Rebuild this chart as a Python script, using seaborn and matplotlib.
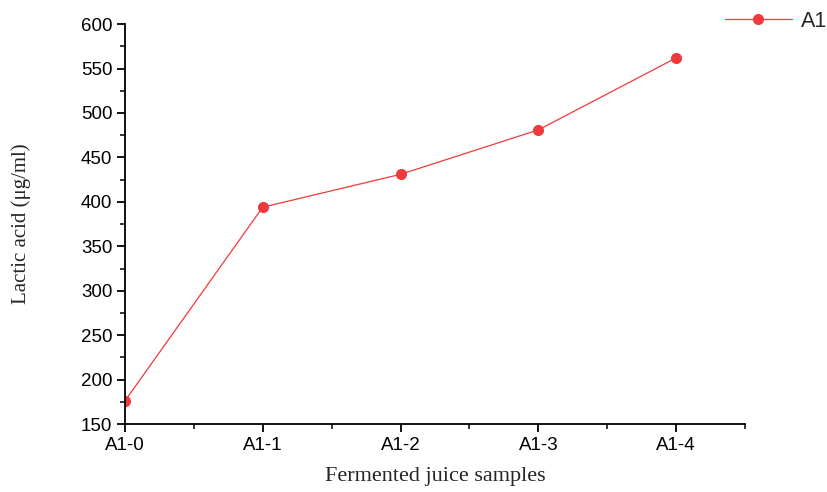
import numpy as np
import pandas as pd
import matplotlib
matplotlib.use("Agg")
import matplotlib.pyplot as plt
import seaborn as sns
from matplotlib.ticker import MultipleLocator

samples = ["A1-0", "A1-1", "A1-2", "A1-3", "A1-4"]
lactic_acid = [176, 394, 431, 481, 562]
series_name = "A1"

sns.set_theme(style="ticks")
plt.rcParams["font.family"] = ["Liberation Sans", "DejaVu Sans"]

df = pd.DataFrame({
    "pos": np.arange(len(samples)),
    "sample": samples,
    "value": lactic_acid,
    "series": series_name,
})

fig = plt.figure(figsize=(8.27, 4.92), dpi=100)
ax = fig.add_axes([0.151, 0.138, 0.750, 0.813])

sns.lineplot(data=df, x="pos", y="value", hue="series", palette=["#F0393C"],
             marker="o", markersize=8, markeredgewidth=0, linewidth=0.9,
             ax=ax, legend=False)

ax.set_xlim(0, 4.5)
ax.set_ylim(150, 600)
ax.set_xticks(df["pos"], samples)
ax.xaxis.set_minor_locator(MultipleLocator(0.5))
ax.yaxis.set_major_locator(MultipleLocator(50))
ax.yaxis.set_minor_locator(MultipleLocator(25))

for side in ("top", "right"):
    ax.spines[side].set_visible(False)
for side in ("left", "bottom"):
    ax.spines[side].set_linewidth(1.3)
    ax.spines[side].set_color("black")

ax.tick_params(axis="both", which="major", direction="out", length=6, width=1.3,
               labelsize=13.5, colors="black", pad=3)
ax.tick_params(axis="both", which="minor", direction="out", length=3.5, width=1.3)

ax.set_xlabel("Fermented juice samples", family="Liberation Serif", fontsize=16)
ax.set_ylabel("Lactic acid (μg/ml)", family="Liberation Serif", fontsize=15)
ax.xaxis.set_label_coords(0.5, -0.108)
ax.yaxis.set_label_coords(-0.152, 0.5)

handle = plt.Line2D([], [], color="#F0393C", marker="o", markersize=8,
                    markeredgewidth=0, linewidth=0.9)
fig.legend([handle], [series_name], loc="upper right", bbox_to_anchor=(1.024, 1.018),
           frameon=False, fontsize=15.5, handlelength=3.1, handletextpad=0.45)

fig.savefig("out.png", dpi=100)
